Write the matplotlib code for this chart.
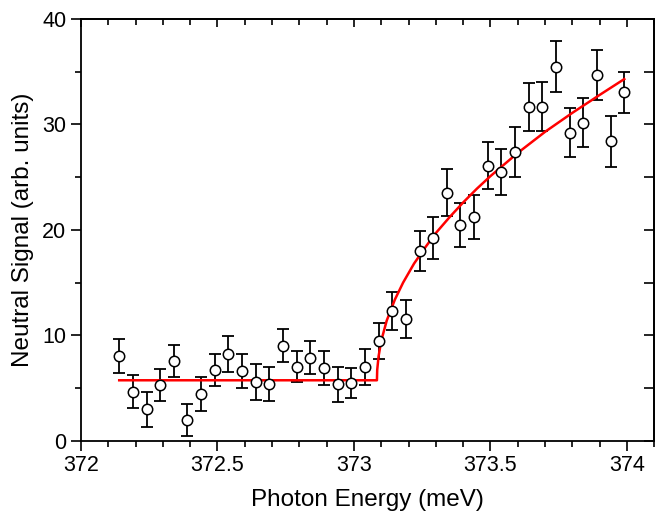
import matplotlib
matplotlib.use('Agg')
import matplotlib.pyplot as plt
from matplotlib.ticker import MultipleLocator

# ---------------------------------------------------------------------------
# Data
# ---------------------------------------------------------------------------

energy = [372.14, 372.19, 372.24, 372.29, 372.34, 372.39, 372.44, 372.49,
          372.54, 372.59, 372.64, 372.69, 372.74, 372.79, 372.84, 372.89,
          372.94, 372.99, 373.04, 373.09, 373.14, 373.19, 373.24, 373.29,
          373.34, 373.39, 373.44, 373.49, 373.54, 373.59, 373.64, 373.69,
          373.74, 373.79, 373.84, 373.89, 373.94, 373.99]

signal = [8.06, 4.65, 2.98, 5.28, 7.56, 1.96, 4.43, 6.71,
          8.20, 6.61, 5.54, 5.35, 9.02, 7.02, 7.88, 6.87,
          5.35, 5.47, 7.02, 9.49, 12.33, 11.52, 18.00, 19.20,
          23.53, 20.47, 21.20, 26.10, 25.50, 27.39, 31.63, 31.69,
          35.48, 29.22, 30.17, 34.70, 28.40, 33.05]

signal_err = [1.60, 1.55, 1.65, 1.50, 1.50, 1.50, 1.65, 1.55,
              1.70, 1.60, 1.70, 1.60, 1.60, 1.50, 1.60, 1.60,
              1.65, 1.45, 1.70, 1.70, 1.80, 1.80, 1.90, 2.00,
              2.20, 2.10, 2.10, 2.20, 2.20, 2.35, 2.30, 2.30,
              2.40, 2.30, 2.30, 2.40, 2.40, 1.95]

# threshold fit (red curve)
fit_x = [372.14, 373.084, 373.085, 373.09, 373.10, 373.12, 373.15, 373.18,
         373.22, 373.26, 373.30, 373.35, 373.40, 373.45, 373.50, 373.60,
         373.70, 373.80, 373.90, 373.99]
fit_y = [5.73, 5.73, 6.70, 8.00, 9.50, 11.40, 13.40, 15.00,
         16.80, 18.30, 19.70, 21.20, 22.60, 23.90, 25.10, 27.30,
         29.30, 31.10, 32.80, 34.30]

# ---------------------------------------------------------------------------
# Plot
# ---------------------------------------------------------------------------

plt.rcParams['font.family'] = ['Liberation Sans', 'DejaVu Sans']

fig = plt.figure(figsize=(6.65, 5.19), dpi=100)
ax = fig.add_axes([0.1218, 0.1509, 0.8621, 0.8125])

ax.plot(fit_x, fit_y, color='red', lw=1.8, zorder=3)
ax.errorbar(energy, signal, yerr=signal_err, fmt='none', ecolor='black',
            elinewidth=1.3, capsize=4, capthick=1.3, zorder=2)
ax.plot(energy, signal, 'o', ms=7.5, mfc='white', mec='black', mew=1.1,
        zorder=4)

ax.set_xlim(372.0, 374.1)
ax.set_ylim(0, 40)
ax.xaxis.set_major_locator(MultipleLocator(0.5))
ax.xaxis.set_minor_locator(MultipleLocator(0.1))
ax.yaxis.set_major_locator(MultipleLocator(10))
ax.yaxis.set_minor_locator(MultipleLocator(5))
ax.set_xticks([372, 372.5, 373, 373.5, 374])
ax.set_xticklabels(['372', '372.5', '373', '373.5', '374'])

ax.tick_params(which='both', direction='out', width=1.2, labelsize=15.5,
               top=False, right=False)
ax.tick_params(which='major', length=7)
ax.tick_params(which='minor', length=4)

# mirrored ticks pointing inwards on top / right
sec_x = ax.secondary_xaxis('top')
sec_x.xaxis.set_major_locator(MultipleLocator(0.5))
sec_x.xaxis.set_minor_locator(MultipleLocator(0.1))
sec_x.tick_params(which='both', direction='in', width=1.2, labeltop=False)
sec_x.tick_params(which='major', length=6)
sec_x.tick_params(which='minor', length=4)
sec_y = ax.secondary_yaxis('right')
sec_y.yaxis.set_major_locator(MultipleLocator(10))
sec_y.yaxis.set_minor_locator(MultipleLocator(5))
sec_y.tick_params(which='both', direction='in', width=1.2, labelright=False,
                  length=7)

for sp in ax.spines.values():
    sp.set_linewidth(1.3)
sec_x.spines['top'].set_linewidth(1.3)
sec_y.spines['right'].set_linewidth(1.3)

ax.set_xlabel('Photon Energy (meV)', fontsize=17.5, labelpad=9)
ax.set_ylabel('Neutral Signal (arb. units)', fontsize=17.5, labelpad=6)

fig.savefig('out.png', dpi=100)
